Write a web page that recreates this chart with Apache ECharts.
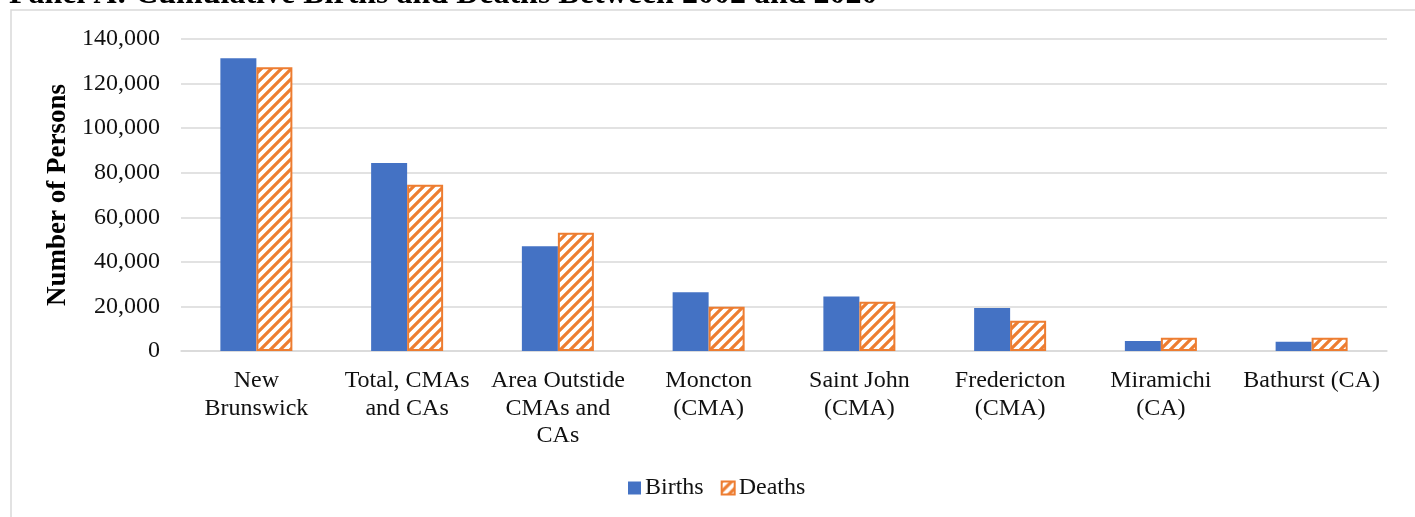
<!DOCTYPE html>
<html>
<head>
<meta charset="utf-8">
<script src="https://cdn.jsdelivr.net/npm/echarts@6/dist/echarts.min.js"></script>
<style>
  html, body { margin: 0; padding: 0; background: #fff; }
  #chart { width: 1415px; height: 517px; }
</style>
</head>
<body>
<div id="chart"></div>
<script>
// Cumulative births and deaths, 2002-2020
const categories = [
  'New\nBrunswick',
  'Total, CMAs\nand CAs',
  'Area Outstide\nCMAs and\nCAs',
  'Moncton\n(CMA)',
  'Saint John\n(CMA)',
  'Fredericton\n(CMA)',
  'Miramichi\n(CA)',
  'Bathurst (CA)'
];
const births = [131400, 84400, 47000, 26400, 24400, 19300, 4500, 4200];
const deaths = [127300, 74600, 53100, 19900, 22100, 13600, 6000, 6000];
const yTicks = [0, 20000, 40000, 60000, 80000, 100000, 120000, 140000];

const SERIF = '"Liberation Serif", "Times New Roman", serif';
const ORANGE = '#ED7D31';
const BLUE = '#4472C4';

// Wide upward diagonal hatch used for the deaths bars
function makeHatch() {
  const s = 10;
  const c = document.createElement('canvas');
  c.width = s; c.height = s;
  const g = c.getContext('2d');
  g.fillStyle = '#fff';
  g.fillRect(0, 0, s, s);
  g.strokeStyle = ORANGE;
  g.lineWidth = 3.2;
  g.beginPath();
  g.moveTo(-s, 2 * s); g.lineTo(2 * s, -s);
  g.moveTo(-2 * s, 2 * s); g.lineTo(s, -s);
  g.moveTo(0, 2 * s); g.lineTo(3 * s, -s);
  g.stroke();
  return c;
}
const hatch = { image: makeHatch(), repeat: 'repeat' };

const chart = echarts.init(document.getElementById('chart'), null, { renderer: 'canvas' });
chart.setOption({
  animation: false,
  backgroundColor: '#fff',
  textStyle: { fontFamily: SERIF, color: '#111' },
  graphic: [
    {
      type: 'rect', silent: true, z: -1,
      shape: { x: 11, y: 10, width: 1430, height: 530 },
      style: { fill: 'none', stroke: '#D9D9D9', lineWidth: 1.5 }
    },
    {
      type: 'text', left: 9, top: -21,
      style: {
        text: 'Panel A: Cumulative Births and Deaths Between 2002 and 2020',
        font: 'bold 32px ' + SERIF, fill: '#000'
      }
    }
  ],
  grid: { left: 181, right: 28, top: 39, bottom: 166, containLabel: false },
  legend: {
    bottom: 12, left: 623,
    itemWidth: 13, itemHeight: 13, itemGap: 17,
    textStyle: { fontFamily: SERIF, fontSize: 24, color: '#111', padding: [0, 0, 0, -1] },
    data: [
      { name: 'Births', icon: 'rect' },
      { name: 'Deaths', icon: 'rect' }
    ]
  },
  xAxis: {
    type: 'category',
    data: categories,
    axisLine: { lineStyle: { color: '#D9D9D9', width: 1.5 } },
    axisTick: { show: false },
    axisLabel: {
      interval: 0, margin: 16,
      fontFamily: SERIF, fontSize: 24, lineHeight: 27.5, color: '#111'
    }
  },
  yAxis: {
    type: 'value',
    min: 0, max: 140000, interval: 20000,
    name: 'Number of Persons',
    nameLocation: 'middle', nameGap: 101, nameRotate: 90,
    nameTextStyle: { fontFamily: SERIF, fontSize: 27, fontWeight: 'bold', color: '#000' },
    axisLine: { show: false },
    axisTick: { show: false },
    axisLabel: {
      margin: 21, fontFamily: SERIF, fontSize: 24, color: '#111',
      formatter: v => yTicks.includes(v) ? v.toLocaleString('en-US') : ''
    },
    splitLine: { lineStyle: { color: '#D9D9D9', width: 1.5 } }
  },
  series: [
    {
      name: 'Births', type: 'bar', data: births,
      barWidth: 36, barGap: '0%',
      itemStyle: { color: BLUE }
    },
    {
      name: 'Deaths', type: 'bar', data: deaths,
      barWidth: 36,
      itemStyle: { color: hatch, borderColor: ORANGE, borderWidth: 2 }
    }
  ]
});
</script>
</body>
</html>
